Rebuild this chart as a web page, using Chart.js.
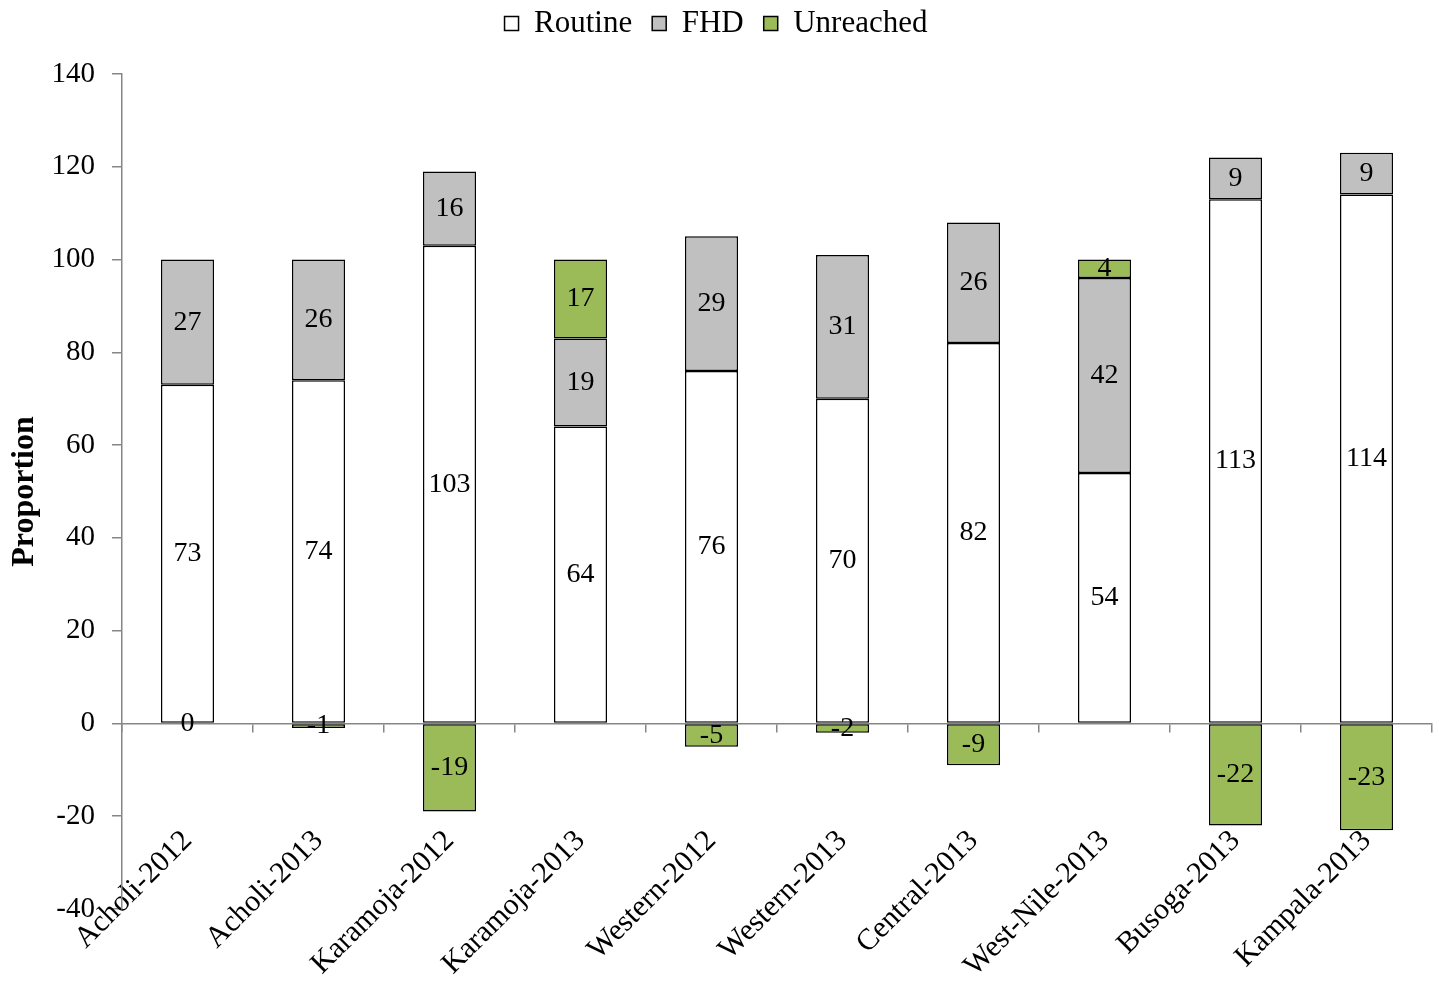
<!DOCTYPE html>
<html>
<head>
<meta charset="utf-8">
<script src="https://cdn.jsdelivr.net/npm/chart.js@4/dist/chart.umd.min.js"></script>
<style>
  html, body { margin: 0; padding: 0; background: #fff; }
  #wrap { width: 1439px; height: 985px; }
</style>
</head>
<body>
<div id="wrap"><canvas id="c" width="1439" height="985"></canvas></div>
<script>
const categories = ['Acholi-2012', 'Acholi-2013', 'Karamoja-2012', 'Karamoja-2013', 'Western-2012',
  'Western-2013', 'Central-2013', 'West-Nile-2013', 'Busoga-2013', 'Kampala-2013'];
const routine   = [73, 74, 103, 64, 76, 70, 82, 54, 113, 114];
const fhd       = [27, 26, 16, 19, 29, 31, 26, 42, 9, 9];
const unreached = [0, -1, -19, 17, -5, -2, -9, 4, -22, -23];
const yTicks    = [-40, -20, 0, 20, 40, 60, 80, 100, 120, 140];

const SERIF = '"Liberation Serif", "Times New Roman", serif';
const AXIS_GRAY = '#868686';

// Writes each segment's value in the middle of its bar piece
const segmentLabels = {
  id: 'segmentLabels',
  afterDatasetsDraw(chart) {
    const ctx = chart.ctx;
    const yScale = chart.scales.y;
    ctx.save();
    ctx.font = '28px ' + SERIF;
    ctx.fillStyle = '#000';
    ctx.textAlign = 'center';
    ctx.textBaseline = 'middle';
    chart.data.datasets.forEach((ds, i) => {
      const meta = chart.getDatasetMeta(i);
      meta.data.forEach((bar, j) => {
        const v = ds.data[j];
        // a zero-sized piece is labelled on the zero line
        const y = v === 0 ? yScale.getPixelForValue(0) : (bar.y + bar.base) / 2;
        ctx.fillText(String(v), bar.x, y);
      });
    });
    ctx.restore();
  }
};

// Fixed height for the legend band above the plot, legend row near the top edge
const legendBand = {
  id: 'legendBand',
  beforeInit(chart) {
    const lg = chart.legend;
    if (lg) {
      const fit = lg.fit;
      lg.fit = function () { fit.call(this); this.height = 74; };
    }
  },
  afterLayout(chart) {
    if (chart.legend) {
      chart.legend.top = -12;
      chart.legend.bottom = chart.legend.top + chart.legend.height;
    }
  }
};

new Chart(document.getElementById('c'), {
  type: 'bar',
  data: {
    labels: categories,
    datasets: [
      { label: 'Routine', data: routine, backgroundColor: '#ffffff', borderColor: '#000', borderWidth: 1.5, borderSkipped: false },
      { label: 'FHD', data: fhd, backgroundColor: '#c0c0c0', borderColor: '#000', borderWidth: 1.5, borderSkipped: false },
      { label: 'Unreached', data: unreached, backgroundColor: '#9bbb59', borderColor: '#000', borderWidth: 1.5, borderSkipped: false }
    ]
  },
  options: {
    responsive: false,
    animation: false,
    categoryPercentage: 1,
    barPercentage: 0.405,
    layout: { padding: { left: 0, right: 7, top: 0, bottom: 76 } },
    plugins: {
      tooltip: { enabled: false },
      legend: {
        position: 'top',
        labels: {
          boxWidth: 14, boxHeight: 14, padding: 20,
          color: '#000',
          font: { family: SERIF, size: 31 }
        }
      }
    },
    scales: {
      x: {
        stacked: true,
        position: { y: 0 },
        offset: true,
        afterFit(scale) { scale.paddingLeft = 0; scale.paddingRight = 0; },
        border: { display: true, color: AXIS_GRAY, width: 1.5 },
        grid: { display: true, drawOnChartArea: false, offset: true, tickLength: 8, color: AXIS_GRAY, lineWidth: 1.5 },
        ticks: {
          minRotation: 45, maxRotation: 45, padding: 92,
          color: '#000',
          font: { family: SERIF, size: 30 }
        }
      },
      y: {
        stacked: true,
        min: -40, max: 140,
        afterFit(scale) { scale.width = 122; },
        afterBuildTicks(scale) { scale.ticks = yTicks.map(v => ({ value: v })); },
        border: { display: true, color: AXIS_GRAY, width: 1.5 },
        grid: { display: true, drawOnChartArea: false, tickLength: 10, color: AXIS_GRAY, lineWidth: 1.5 },
        ticks: { color: '#000', padding: 17, font: { family: SERIF, size: 29 } },
        title: { display: true, text: 'Proportion', color: '#000', padding: { top: 6, bottom: 0 }, font: { family: SERIF, size: 32, weight: 'bold' } }
      }
    }
  },
  plugins: [segmentLabels, legendBand]
});
</script>
</body>
</html>
